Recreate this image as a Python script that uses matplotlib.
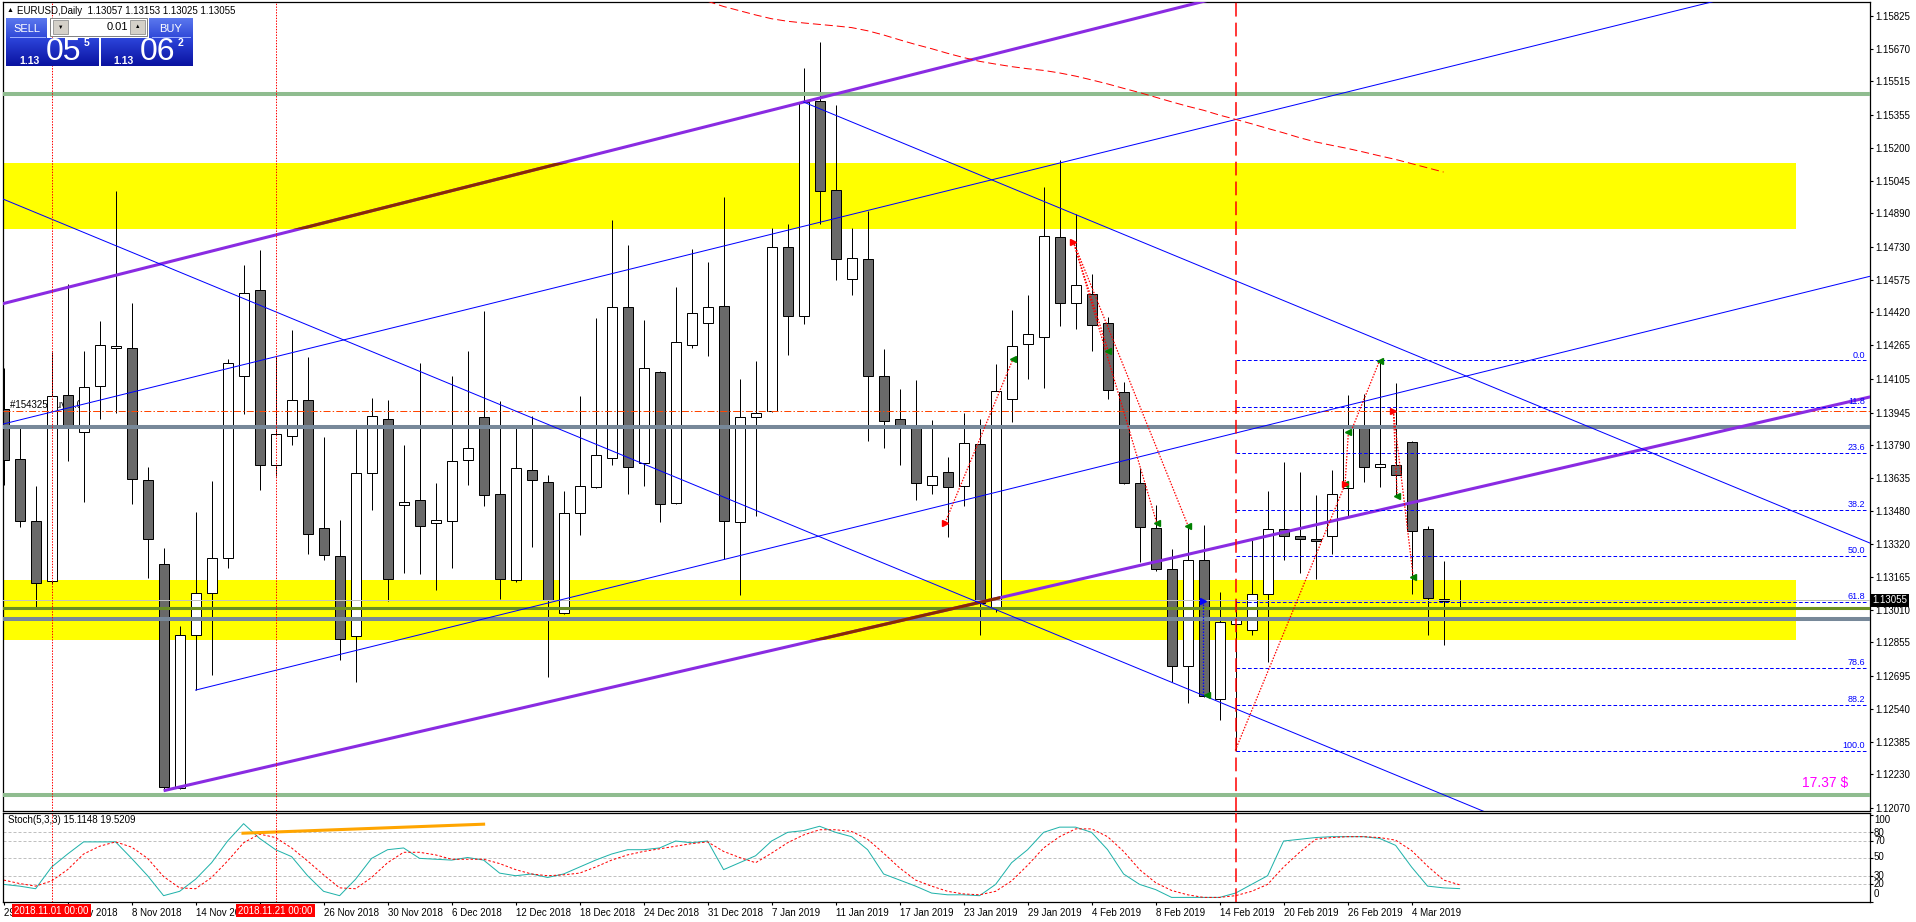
import numpy as np
import pandas as pd
import matplotlib
matplotlib.use("Agg")
import matplotlib.pyplot as plt
from matplotlib.patches import Rectangle

plt.rcParams['font.family'] = ['Liberation Sans', 'DejaVu Sans']

# ---- data -------------------------------------------------------------
days = pd.bdate_range('2018-10-29', '2019-03-07')
days = days[~days.isin(pd.to_datetime(['2018-12-25', '2019-01-01']))]

opens = [1.13960, 1.13724, 1.13430, 1.13148, 1.14027, 1.13855, 1.14070, 1.14249, 1.14249, 1.13623,
         1.13225, 1.12164, 1.12888, 1.13088, 1.13253, 1.14120, 1.14528, 1.13695, 1.13836, 1.14003,
         1.13397, 1.13263, 1.12885, 1.13657, 1.13912, 1.13506, 1.13528, 1.13423, 1.13430, 1.13721,
         1.13922, 1.13561, 1.13151, 1.13671, 1.13614, 1.12995, 1.13468, 1.13592, 1.13731, 1.14447,
         1.13705, 1.14139, 1.13518, 1.14263, 1.14368, 1.14452, 1.13428, 1.13922, 1.13951, 1.14731,
         1.14404, 1.15422, 1.14999, 1.14576, 1.14672, 1.14120, 1.13912, 1.13879, 1.13602, 1.13662,
         1.13595, 1.13798, 1.13024, 1.14010, 1.14271, 1.14302, 1.14779, 1.14462, 1.14509, 1.14368,
         1.14041, 1.13609, 1.13397, 1.13201, 1.12745, 1.13244, 1.12589, 1.12943, 1.12912, 1.13084,
         1.13392, 1.13358, 1.13346, 1.13358, 1.13585, 1.13879, 1.13688, 1.13695, 1.13807, 1.13394,
         1.13062, 1.13057]
highs = [1.14158, 1.13876, 1.13597, 1.14230, 1.14555, 1.14237, 1.14380, 1.14996, 1.14462, 1.13688,
         1.13301, 1.12933, 1.13473, 1.13621, 1.14199, 1.14643, 1.14717, 1.14211, 1.14337, 1.14208,
         1.13831, 1.13437, 1.13869, 1.14015, 1.14003, 1.13793, 1.14182, 1.13609, 1.14120, 1.14237,
         1.14426, 1.13998, 1.13872, 1.13927, 1.13650, 1.13573, 1.14022, 1.14395, 1.14858, 1.14739,
         1.14383, 1.14144, 1.14538, 1.14722, 1.14657, 1.14965, 1.14106, 1.14189, 1.14822, 1.14841,
         1.15579, 1.15701, 1.15402, 1.14820, 1.14901, 1.14247, 1.14058, 1.14099, 1.13910, 1.13736,
         1.13943, 1.13915, 1.14173, 1.14433, 1.14500, 1.15016, 1.15140, 1.14884, 1.14600, 1.14397,
         1.14091, 1.13681, 1.13506, 1.13299, 1.13406, 1.13413, 1.13096, 1.13060, 1.13339, 1.13573,
         1.13709, 1.13664, 1.13554, 1.13673, 1.14027, 1.14034, 1.14192, 1.14087, 1.13812, 1.13406,
         1.13239, 1.13153]
lows = [1.13602, 1.13401, 1.13017, 1.13131, 1.13716, 1.13521, 1.13912, 1.13943, 1.13509, 1.13160,
        1.12152, 1.12160, 1.12630, 1.12702, 1.13210, 1.13936, 1.13578, 1.13645, 1.13793, 1.13275,
        1.13244, 1.12773, 1.12666, 1.13482, 1.13053, 1.13186, 1.13179, 1.13103, 1.13208, 1.13602,
        1.13502, 1.13060, 1.13143, 1.13306, 1.12690, 1.12990, 1.13365, 1.13585, 1.13695, 1.13557,
        1.13599, 1.13425, 1.13509, 1.14251, 1.14211, 1.13251, 1.13079, 1.13454, 1.13946, 1.14216,
        1.14364, 1.14839, 1.14574, 1.14500, 1.13812, 1.13776, 1.13695, 1.13528, 1.13561, 1.13354,
        1.13504, 1.12888, 1.13000, 1.13900, 1.14106, 1.14060, 1.14354, 1.14340, 1.14239, 1.14008,
        1.13604, 1.13237, 1.13196, 1.12666, 1.12570, 1.12594, 1.12487, 1.12339, 1.12888, 1.12761,
        1.13244, 1.13186, 1.13155, 1.13275, 1.13454, 1.13616, 1.13590, 1.13545, 1.13084, 1.12888,
        1.12845, 1.13025]
closes = [1.13721, 1.13430, 1.13136, 1.14025, 1.13876, 1.14065, 1.14263, 1.14259, 1.13628, 1.13346,
          1.12171, 1.12888, 1.13088, 1.13253, 1.14182, 1.14514, 1.13695, 1.13841, 1.14003, 1.13370,
          1.13270, 1.12871, 1.13657, 1.13927, 1.13155, 1.13523, 1.13408, 1.13435, 1.13714, 1.13779,
          1.13554, 1.13155, 1.13681, 1.13626, 1.13055, 1.13468, 1.13599, 1.13743, 1.14447, 1.13688,
          1.14158, 1.13509, 1.14278, 1.14419, 1.14445, 1.13430, 1.13922, 1.13941, 1.14731, 1.14404,
          1.15417, 1.14994, 1.14672, 1.14677, 1.14120, 1.13903, 1.13879, 1.13609, 1.13642, 1.13590,
          1.13800, 1.13043, 1.14046, 1.14261, 1.14316, 1.14784, 1.14462, 1.14552, 1.14361, 1.14051,
          1.13609, 1.13401, 1.13201, 1.12745, 1.13248, 1.12599, 1.12950, 1.12959, 1.13084, 1.13392,
          1.13361, 1.13346, 1.13334, 1.13561, 1.13879, 1.13688, 1.13700, 1.13650, 1.13385, 1.13067,
          1.13050, 1.13055]

# moving average (red dashed, top right)
ma_start = 44
ma_vals = [1.15895, 1.15870, 1.15850, 1.15830, 1.15812, 1.15800, 1.15792, 1.15785, 1.15778, 1.15770,
           1.15755, 1.15735, 1.15712, 1.15690, 1.15670, 1.15648, 1.15628, 1.15610, 1.15597, 1.15585,
           1.15575, 1.15567, 1.15555, 1.15540, 1.15522, 1.15503, 1.15482, 1.15462, 1.15440, 1.15418,
           1.15397, 1.15378, 1.15355, 1.15335, 1.15314, 1.15292, 1.15271, 1.15248, 1.15228, 1.15212,
           1.15197, 1.15180, 1.15162, 1.15145, 1.15125, 1.15105, 1.15085]

# stochastic (5,3,3)
stoch_main = [20, 18, 15, 40, 55, 69, 69, 69, 50, 30, 7, 12, 26, 45, 70, 90, 73, 60, 52, 30,
              12, 7, 26, 50, 60, 62, 50, 49, 48, 51, 48, 33, 30, 32, 28, 32, 40, 48, 55, 60,
              60, 62, 70, 68, 70, 37, 45, 53, 70, 80, 82, 87, 80, 75, 60, 32, 25, 18, 10, 8,
              8, 7, 20, 45, 60, 80, 86, 86, 80, 60, 32, 20, 14, 5, 5, 5, 5, 10, 20, 30,
              70, 72, 74, 75, 75, 75, 73, 65, 40, 18, 16, 15.1148]
stoch_signal = [25, 21, 18, 24, 37, 55, 64, 69, 63, 50, 29, 16, 15, 28, 47, 68, 78, 74, 62, 47,
                31, 16, 15, 28, 45, 57, 57, 54, 49, 49, 49, 44, 37, 32, 30, 31, 33, 40, 48, 54,
                58, 61, 64, 67, 69, 58, 51, 45, 56, 68, 77, 83, 83, 81, 72, 56, 39, 25, 18, 12,
                9, 8, 12, 24, 42, 62, 75, 84, 84, 75, 58, 37, 22, 13, 8, 5, 5, 7, 12, 20,
                40, 57, 72, 74, 75, 75, 74, 71, 59, 41, 25, 19.5209]

# horizontal levels
green_levels = [1.15454, 1.12133]
grey_levels = [1.13876, 1.12968]
olive_level = 1.13017
order_price = 1.13952
last_price = 1.13055
zones = [(1.14817, 1.15128), (1.12868, 1.13150)]
zone_end = 112.0
brown_ends = [112.0, 62.3]   # where the purple line shows darker over each zone

# trend lines: (bar, price) pairs
purple_lines = [((0, 1.14462), (50, 1.15417)), ((10, 1.12152), (116.65, 1.14019))]
blue_lines = [((0, 1.14956), (100, 1.11819)), ((50, 1.15417), (116.65, 1.13326)),
              ((12, 1.12629), (116.65, 1.14591)), ((0, 1.13891), (100, 1.15765))]

# fibonacci
fib_start = 77
fib_hi, fib_lo = 1.14192, 1.12339
fib_levels = [0.0, 11.8, 23.6, 38.2, 50.0, 61.8, 78.6, 88.2, 100.0]

# closed trades drawn as dotted arrows
trades = [((58.84, 1.13422), (63.1, 1.14201)), ((66.86, 1.14755), (69.04, 1.14237)),
          ((66.86, 1.14755), (72.07, 1.13422)), ((66.86, 1.14755), (74.04, 1.13406)),
          ((76.98, 1.12343), (83.84, 1.13604)), ((83.84, 1.13604), (84.05, 1.13853)),
          ((84.3, 1.13872), (86.0, 1.14191)), ((86.86, 1.13952), (87.1, 1.13549)),
          ((86.86, 1.13952), (88.1, 1.13167))]
trade_opens = [(58.84, 1.13422), (66.86, 1.14755), (83.84, 1.13604), (86.86, 1.13952)]
vlines_dotted = [3, 17]
vline_dashed = 77

price_ticks = ['1.15825', '1.15670', '1.15515', '1.15355', '1.15200', '1.15045', '1.14890', '1.14730',
               '1.14575', '1.14420', '1.14265', '1.14105', '1.13945', '1.13790', '1.13635', '1.13480',
               '1.13320', '1.13165', '1.13010', '1.12855', '1.12695', '1.12540', '1.12385', '1.12230',
               '1.12070']

# ---- layout ------------------------------------------------------------
W, H = 1916, 922
fig = plt.figure(figsize=(W / 100, H / 100), dpi=100)


def box(x0, y0, x1, y1):
    return [x0 / W, 1 - y1 / H, (x1 - x0) / W, (y1 - y0) / H]


ax = fig.add_axes(box(2.5, 2, 1870, 811))
axs = fig.add_axes(box(2.5, 813, 1870, 902))
xl = ((2.5 - 3.6) / 16, (1870 - 3.6) / 16)
ppx = 21092.0
ax.set_xlim(xl)
ax.set_ylim(1.15825 - (811 - 16) / ppx, 1.15825 + 14 / ppx)
axs.set_xlim(xl)
axs.set_ylim(-0.3, 102.3)

for a in (ax, axs):
    for s in a.spines.values():
        s.set_linewidth(0.9)
        s.set_color('black')

x = np.arange(len(days))
lw1 = 0.72

# zones
brown_clips = []
for (lo, hi), bend in zip(zones, brown_ends):
    ax.add_patch(Rectangle((xl[0] - 1, lo), zone_end - xl[0] + 1, hi - lo,
                           fc='#FFFF00', ec='none', zorder=0.5))
    clip = Rectangle((xl[0] - 1, lo), bend - xl[0] + 1, hi - lo, fc='none', ec='none')
    ax.add_patch(clip)
    brown_clips.append(clip)

# order line text (below candles)
ax.text(0.4, order_price + 0.00006, '#154325 buy 0.01', fontsize=7, ha='left', va='bottom', zorder=1)

# candles
o, h, l, c = map(np.array, (opens, highs, lows, closes))
ax.vlines(x, l, h, color='black', lw=lw1, zorder=2)
body_lo = np.minimum(o, c)
body_h = np.maximum(np.abs(c - o), 0.00002)
cols = np.where(c >= o, 'white', '#696969')
ax.bar(x, body_h, bottom=body_lo, width=0.62, color=cols, edgecolor='black', linewidth=lw1, zorder=2.5)

# horizontal lines
ax.axhline(last_price, color='#C0C0C0', lw=lw1, zorder=2.6)
for g in green_levels:
    ax.axhline(g, color='#8FBC8F', lw=2.9, zorder=3)
for g in grey_levels:
    ax.axhline(g, color='#778899', lw=2.9, zorder=3)
ax.axhline(olive_level, color='#6B8E23', lw=2.2, zorder=3)
ax.axhline(order_price, color='#FF4500', lw=lw1, dashes=[7, 2.2, 1.4, 2.2], zorder=3)

# trend lines
for (x0, p0), (x1, p1) in purple_lines:
    k = (p1 - p0) / (x1 - x0)
    xa = np.array([x0 if x0 > 1 else -2, 130])
    ya = p0 + k * (xa - x0)
    ax.plot(xa, ya, color='#8A2BE2', lw=2.2, zorder=3.2, solid_capstyle='butt')
    for clip in brown_clips:
        ln, = ax.plot(xa, ya, color='#8A2B00', lw=2.2, zorder=3.3, solid_capstyle='butt')
        ln.set_clip_path(clip)
for (x0, p0), (x1, p1) in blue_lines:
    k = (p1 - p0) / (x1 - x0)
    xa = np.array([x0 if x0 > 1 else -2, 130])
    ax.plot(xa, p0 + k * (xa - x0), color='#0000FF', lw=lw1, zorder=3.4)

# moving average
ax.plot(np.arange(ma_start, ma_start + len(ma_vals)), ma_vals, color='#FF0000', lw=lw1,
        dashes=[8, 4], zorder=3.4)

# vertical lines
for v in vlines_dotted:
    for a in (ax, axs):
        a.axvline(v, color='#FF0000', lw=lw1, dashes=[1.4, 1.4], zorder=3.5)
for a in (ax, axs):
    a.axvline(vline_dashed, color='#FF0000', lw=1.1, dashes=[9, 4], zorder=3.5)

# fibonacci levels
rng = fib_hi - fib_lo
for lev in fib_levels:
    p = fib_hi - lev / 100 * rng
    ax.plot([fib_start, xl[1] - 0.1], [p, p], color='#0000FF', lw=lw1, dashes=[3.6, 2.2], zorder=3.4)
    ax.text(xl[1] - 0.3, p + 0.00004, f'{lev:.1f}', color='#0000FF', fontsize=6.5,
            ha='right', va='bottom', zorder=4)

# trades
for (x0, p0), (x1, p1) in trades:
    ax.plot([x0, x1], [p0, p1], color='#FF0000', lw=0.9, dashes=[1.2, 1.2], zorder=3.6)
    ax.plot(x1, p1, marker='<', color='#008000', ms=4, zorder=3.7)
for (x0, p0) in trade_opens:
    ax.plot(x0, p0, marker='>', color='#FF0000', ms=4, zorder=3.7)
ax.plot([74.94, 74.94], [1.13052, 1.12606], color='#0000FF', lw=0.9, dashes=[1.2, 1.2], zorder=3.6)
ax.plot(74.94, 1.13052, marker='>', color='#0000FF', ms=4, zorder=3.7)
ax.plot(75.2, 1.12606, marker='<', color='#008000', ms=4, zorder=3.7)

ax.text(115.3, 1.12190, '17.37 $', color='#FF00FF', fontsize=10, ha='right', va='center', zorder=4)

# price axis
ax.yaxis.tick_right()
ax.set_yticks([float(t) for t in price_ticks])
ax.set_yticklabels(price_ticks)
ax.tick_params(axis='y', length=2.5, width=0.8, pad=1.5, labelsize=7)
ax.set_xticks([])
ax.text(1.0015, last_price, '1.13055', transform=ax.get_yaxis_transform(), color='white',
        fontsize=7, ha='left', va='center', zorder=6,
        bbox=dict(boxstyle='square,pad=0.15', fc='black', ec='none'))

# ---- stochastic panel ------------------------------------------------
for lev in (20, 30, 50, 70, 80):
    axs.axhline(lev, color='#C0C0C0', lw=lw1, dashes=[3, 2])
axs.plot(x, stoch_main, color='#20B2AA', lw=lw1)
axs.plot(x, stoch_signal, color='#FF0000', lw=lw1, dashes=[2.5, 2])
axs.plot([14.96, 30], [79, 89.4], color='#FFA500', lw=2.2)
axs.text(0.3, 94, 'Stoch(5,3,3) 15.1148 19.5209', fontsize=7, ha='left', va='center')
axs.yaxis.tick_right()
axs.set_yticks([0, 20, 30, 50, 70, 80, 100])
axs.set_yticklabels([])
axs.tick_params(axis='y', length=2.5, width=0.8)
for v, ypix in [(100, 820), (80, 833), (70, 840.5), (50, 857.3), (30, 875.5), (20, 883.5), (0, 894)]:
    fig.text(1874 / W, 1 - ypix / H, str(v), fontsize=7, ha='left', va='center')

# date ticks every 4 bars; the one fully hidden under the red time label is left blank
ticks = list(range(0, len(days), 4))
hidden = {16}
axs.set_xticks(ticks)
axs.set_xticklabels(['' if i in hidden else f'{days[i].day} {days[i].strftime("%b %Y")}'
                     for i in ticks], ha='left')
axs.tick_params(axis='x', length=2.5, width=0.8, pad=1.5, labelsize=7)

# ---- overlay: header, one-click panel, time labels ----------------------
ov = fig.add_axes([0, 0, 1, 1], zorder=10)
ov.set_xlim(0, W)
ov.set_ylim(H, 0)
ov.axis('off')

ov.text(7, 11, '\u25B2', fontsize=5, ha='left', va='center')
ov.text(17, 11, 'EURUSD,Daily  1.13057 1.13153 1.13025 1.13055', fontsize=7, ha='left', va='center')


def grad(x0, y0, x1, y1, ctop, cbot):
    t = np.linspace(0, 1, 40)[:, None, None]
    a = np.array(matplotlib.colors.to_rgb(ctop))
    b = np.array(matplotlib.colors.to_rgb(cbot))
    img = a * (1 - t) + b * t
    ov.imshow(img, extent=(x0, x1, y1, y0), aspect='auto', interpolation='bilinear', zorder=1)


grad(6, 18, 47, 38, '#5b78ee', '#2f48d8')
grad(149, 18, 193, 38, '#5b78ee', '#2f48d8')
grad(6, 38, 99, 66, '#2c44da', '#0a12a0')
grad(101, 38, 193, 66, '#2c44da', '#0a12a0')
ov.plot([10, 45], [37.5, 37.5], color='#9fb0ff', lw=0.7, zorder=2)
ov.plot([152, 190], [37.5, 37.5], color='#9fb0ff', lw=0.7, zorder=2)
ov.add_patch(Rectangle((50, 18), 97, 18, fc='white', ec='#808080', lw=0.7, zorder=2))
for bx in (53, 130):
    ov.add_patch(Rectangle((bx, 20.5), 15, 13.5, fc='#D4D0C8', ec='#808080', lw=0.5, zorder=3))
ov.text(60.5, 27.5, '\u25BC', fontsize=4, ha='center', va='center', zorder=4)
ov.text(137.5, 27, '\u25B2', fontsize=4, ha='center', va='center', zorder=4)
ov.text(128, 27.5, '0.01', fontsize=8, ha='right', va='center', zorder=4)
ov.text(26.5, 28.5, 'SELL', fontsize=8, color='white', ha='center', va='center', zorder=4)
ov.text(170.5, 28.5, 'BUY', fontsize=8, color='white', ha='center', va='center', zorder=4)
for x0, big, sup in [(19, '05', '5'), (113, '06', '2')]:
    ov.text(x0, 60.5, '1.13', fontsize=7.5, fontweight='bold', color='white', ha='left', va='center', zorder=4)
    ov.text(x0 + 27, 52.5, big, fontsize=23, color='white', ha='left', va='center', zorder=4)
    ov.text(x0 + 65, 43.5, sup, fontsize=7.5, fontweight='bold', color='white', ha='left', va='center', zorder=4)

for v, txt in [(3, '2018.11.01 00:00'), (17, '2018.11.21 00:00')]:
    px = 3.6 + 16 * v
    ov.text(px, 910.5, txt, fontsize=7, color='white', ha='center', va='center', zorder=5,
            bbox=dict(boxstyle='square,pad=0.2', fc='#FF0000', ec='none'))

fig.savefig('out.png', dpi=100)
